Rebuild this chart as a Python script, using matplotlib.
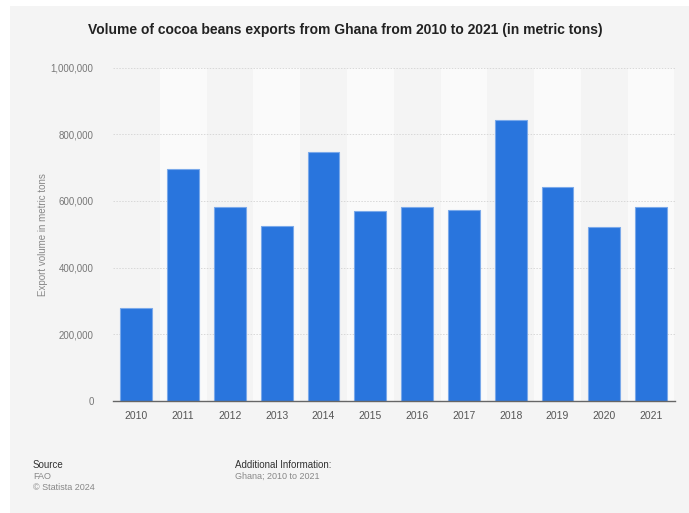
import matplotlib
matplotlib.use("Agg")
import matplotlib.pyplot as plt
from matplotlib.patches import Rectangle
from matplotlib.ticker import FuncFormatter

years = ["2010", "2011", "2012", "2013", "2014", "2015", "2016", "2017", "2018", "2019", "2020", "2021"]
exports = [278000, 696000, 583000, 526000, 746000, 570000, 581000, 573000, 842000, 641000, 521000, 583000]
y_ticks = [0, 200000, 400000, 600000, 800000, 1000000]

title = "Volume of cocoa beans exports from Ghana from 2010 to 2021 (in metric tons)"
y_label = "Export volume in metric tons"

plt.rcParams['font.family'] = ['Liberation Sans', 'DejaVu Sans']

W, H = 689, 513
fig = plt.figure(figsize=(W / 100, H / 100), dpi=100)
fig.patch.set_facecolor("white")
fig.patches.append(Rectangle((10 / W, 0), 1, 1 - 6 / H, transform=fig.transFigure,
                             facecolor="#f4f4f4", edgecolor="none", zorder=-10))

left, right = 113, 674.5
top, bottom = 67.6, 401
ax = fig.add_axes([left / W, 1 - bottom / H, (right - left) / W, (bottom - top) / H])
ax.set_facecolor("#f4f4f4")

x = list(range(len(years)))
for i in x:
    ax.axvspan(i - 0.5, i + 0.5, color="#f4f4f4" if i % 2 == 0 else "#fafafa", zorder=0, lw=0)

ax.bar(x, exports, width=0.68, color="#2975dd", edgecolor="#7aa9ea", linewidth=0.8, zorder=3)

ax.set_xlim(-0.5, len(years) - 0.5)
ax.set_ylim(0, 1000000)
ax.set_yticks(y_ticks)
ax.yaxis.set_major_formatter(FuncFormatter(lambda v, p: f"{int(v):,}"))
ax.set_xticks(x)
ax.set_xticklabels(years)
ax.grid(axis="y", color="#d8d8d8", linestyle=(0, (1.5, 1.5)), linewidth=0.7, zorder=1)
for s in ["top", "right", "left"]:
    ax.spines[s].set_visible(False)
ax.spines["bottom"].set_color("#666666")
ax.spines["bottom"].set_linewidth(1.0)
ax.spines["bottom"].set_zorder(4)
ax.tick_params(axis="y", length=0, pad=14, labelsize=7, labelcolor="#777777")
ax.tick_params(axis="x", length=0, pad=7, labelsize=7.5, labelcolor="#555555")
ax.set_ylabel(y_label, fontsize=7, color="#888888", labelpad=10)
ax.yaxis.set_label_coords((48 - left) / (right - left), 0.5)

fig.text(345 / W, 1 - 30 / H, title, ha="center", va="center", fontsize=10, fontweight="bold", color="#222222")

fig.text(33 / W, 1 - 465 / H, "Source", fontsize=7, color="#333333", va="center")
fig.text(33 / W, 1 - 476.5 / H, "FAO", fontsize=6.5, color="#888888", va="center")
fig.text(33 / W, 1 - 488 / H, "© Statista 2024", fontsize=6.5, color="#888888", va="center")
fig.text(235 / W, 1 - 465 / H, "Additional Information:", fontsize=7, color="#333333", va="center")
fig.text(235 / W, 1 - 476.5 / H, "Ghana; 2010 to 2021", fontsize=6.5, color="#888888", va="center")

fig.savefig("out.png", dpi=100, facecolor=fig.get_facecolor())
